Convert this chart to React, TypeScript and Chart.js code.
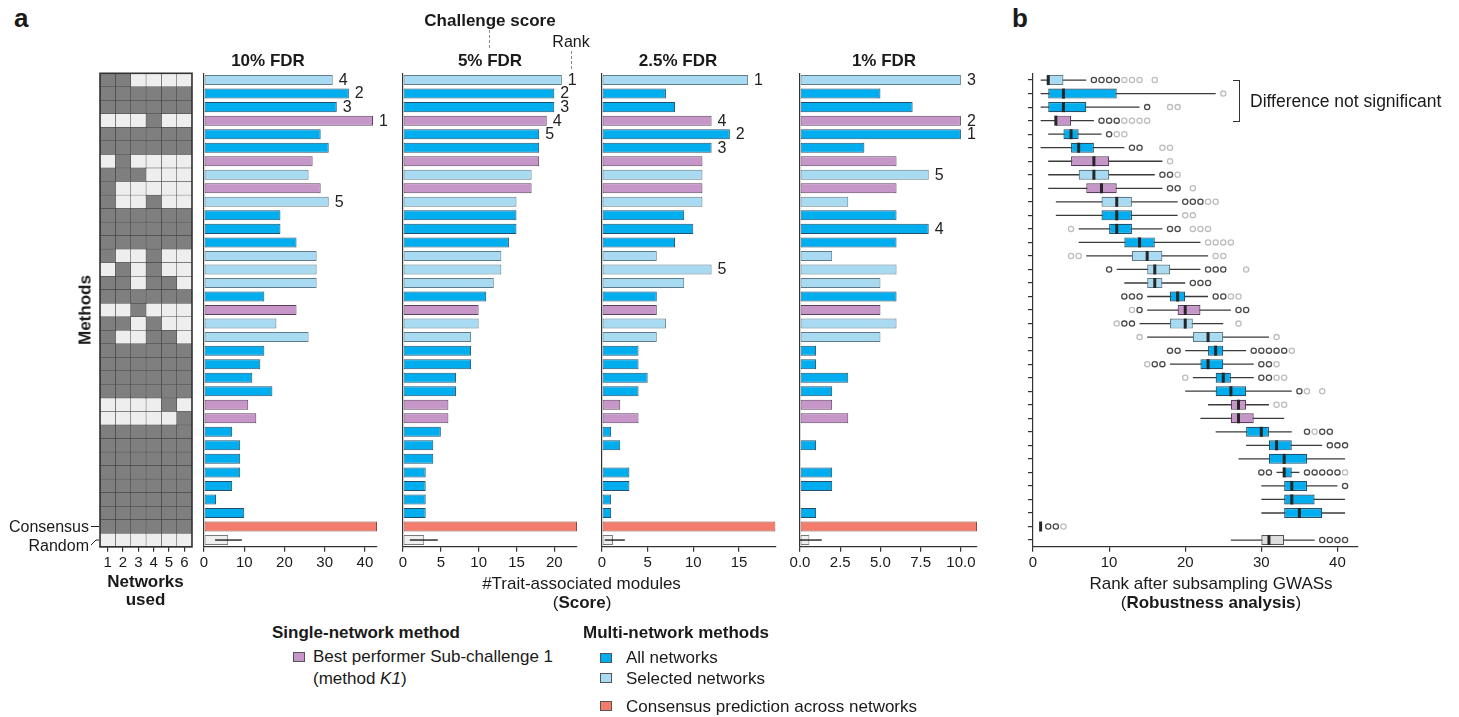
import React, { useEffect, useRef } from 'react';
import { Chart, registerables } from 'chart.js';

Chart.register(...registerables);

const FONT = "'Liberation Sans', Arial, Helvetica, sans-serif";
Chart.defaults.font.family = FONT;

// ---------------- data ----------------
const rowLabels: string[] = [
  ...Array.from({ length: 33 }, (_, i) => `Method ${i + 1}`),
  'Consensus',
  'Random',
];

// A = all networks, S = selected networks, P = single network (K1), C = consensus, R = random
const rowTypes = [
  'S', 'A', 'A', 'P', 'A', 'A', 'P', 'S', 'P', 'S',
  'A', 'A', 'A', 'S', 'S', 'S', 'A', 'P', 'S', 'S',
  'A', 'A', 'A', 'A', 'P', 'P', 'A', 'A', 'A', 'A',
  'A', 'A', 'A', 'C', 'R',
];

const networkLabels = ['1', '2', '3', '4', '5', '6'];
const networksUsed = [
  '110000', '111111', '111111', '000100', '111111', '111111', '010000', '111000', '100000', '100100',
  '111111', '111111', '111111', '100100', '010100', '110110', '111111', '001000', '110100', '100110',
  '111111', '111111', '111111', '111111', '000010', '000001', '111111', '111111', '111111', '111111',
  '111111', '111111', '111111', '111111', '000000',
];

const fdr10Scores = [32, 36, 33, 42, 29, 31, 27, 26, 29, 31, 19, 19, 23, 28, 28, 28, 15, 23, 18, 26, 15, 14, 12, 17, 11, 13, 7, 9, 9, 9, 7, 3, 10, 43, 6];
const fdr5Scores = [21, 20, 20, 19, 18, 18, 18, 17, 17, 15, 15, 15, 14, 13, 13, 12, 11, 10, 10, 9, 9, 9, 7, 7, 6, 6, 5, 4, 4, 3, 3, 3, 3, 23, 2.8];
const fdr25Scores = [16, 7, 8, 12, 14, 12, 11, 11, 11, 11, 9, 10, 8, 6, 12, 9, 6, 6, 7, 6, 4, 4, 5, 4, 2, 4, 1, 2, 0, 3, 3, 1, 1, 19, 1.2];
const fdr1Scores = [10, 5, 7, 10, 10, 4, 6, 8, 6, 3, 6, 8, 6, 2, 6, 5, 6, 5, 6, 5, 1, 1, 3, 2, 2, 3, 0, 1, 0, 2, 2, 0, 1, 11, 0.58];

const fdr10Ranks = [4, 2, 3, 1, null, null, null, null, null, 5];
const fdr5Ranks = [1, 2, 3, 4, 5];
const fdr25Ranks = [1, null, null, 4, 2, 3, null, null, null, null, null, null, null, null, 5];
const fdr1Ranks = [3, null, null, 2, 1, null, null, 5, null, null, null, 4];

const fdr10RandomRange = [2.75, 9.4];
const fdr5RandomRange = [0.9, 4.6];
const fdr25RandomRange = [0.3, 2.5];
const fdr1RandomRange = [0, 1.35];

const fdr10Ticks = { max: 43, step: 10, decimals: 0 };
const fdr5Ticks = { max: 23, step: 5, decimals: 0 };
const fdr25Ticks = { max: 19, step: 5, decimals: 0 };
const fdr1Ticks = { max: 11, step: 2.5, decimals: 1 };

// robustness box plots (rank after subsampling GWASs)
const boxLow = [1, 1, 1, 1, 2, 1, 2, 2, 2, 3, 3, 6, 6, 7, 11, 12, 15, 15, 14, 15, 20, 18, 21, 20, 23, 22, 24, 28, 27, 32, 30, 30, 30, 1, 26];
const boxQ1 = [2, 2, 2, 3, 4, 5, 5, 6, 7, 9, 9, 10, 12, 13, 15, 15, 18, 19, 18, 21, 23, 22, 24, 24, 26, 26, 28, 31, 31, 33, 33, 33, 33, 1, 30];
const boxMedian = [2, 4, 4, 3, 5, 6, 8, 8, 9, 11, 11, 11, 14, 15, 16, 16, 19, 20, 20, 23, 24, 23, 25, 26, 27, 27, 30, 32, 33, 33, 34, 34, 35, 1, 31];
const boxQ3 = [4, 11, 7, 5, 6, 8, 10, 10, 11, 13, 13, 13, 16, 17, 18, 17, 20, 22, 21, 25, 25, 25, 26, 28, 28, 29, 31, 34, 36, 34, 36, 37, 38, 1, 33];
const boxHigh = [7, 24, 14, 8, 9, 12, 17, 16, 17, 19, 19, 17, 22, 23, 22, 20, 23, 26, 25, 31, 28, 29, 29, 34, 31, 33, 34, 38, 41, 35, 40, 41, 41, 1, 37];
const outliersDark = [
  [8, 9, 10, 11], [], [15], [9, 10, 11], [10], [13, 14], [], [17, 18], [18, 19], [20, 21, 22],
  [], [18, 19], [], [], [10, 23, 24, 25], [21, 22, 23], [12, 13, 14, 24, 25], [14, 27, 28], [12, 13], [],
  [18, 19, 29, 30, 31, 32, 33], [16, 17, 30, 31], [30, 31], [35], [], [], [36, 38, 39], [39, 40, 41], [], [30, 31, 36, 37, 38, 39, 40],
  [41], [], [], [2, 3], [38, 39, 40, 41],
];
const outliersLight = [
  [12, 13, 14, 16], [25], [18, 19], [12, 13, 14, 15], [11, 12], [17, 18], [18], [19], [21], [23, 24],
  [20, 21], [5, 21, 22, 23], [23, 24, 25, 26], [5, 6, 24, 25], [28], [], [26, 27], [13], [11, 27], [14, 32],
  [34], [15, 32], [20, 32, 33], [36, 38], [32, 33], [], [37], [], [], [41],
  [], [], [], [4], [],
];
const rankAxis = { max: 42.7, step: 10 };

// ---------------- styles ----------------
const typeFill: Record<string, string> = { A: '#00adee', S: '#a8dbf1', P: '#c796c9', C: '#f47c6c', R: '#efefef' };
const typeBorder: Record<string, string> = { A: '#25506a', S: '#5f7b87', P: '#5a405c', C: '#8a4a40', R: '#7a7a7a' };
const boxFill: Record<string, string> = { ...typeFill, R: '#dedede' };
const CELL_DARK = '#7f7f7f';
const CELL_LIGHT = '#eeeeee';
const AXIS = '#333333';
const INK = '#1a1a1a';

const AREA_TOP = 73.3;
const AREA_BOTTOM = 546.8;
const CANVAS_TOP = 40;
const CANVAS_BOTTOM = 575;

type Box = { x: number; w: number; left: number; right: number };

function frame(b: Box) {
  return {
    padTop: AREA_TOP - CANVAS_TOP,
    padRight: b.x + b.w - b.right,
    yWidth: b.left - b.x,
    xHeight: CANVAS_BOTTOM - AREA_BOTTOM,
  };
}

const tickFont = { family: FONT, size: 15 };

function xAxis(max: number, step: number, decimals: number, xHeight: number) {
  return {
    type: 'linear',
    min: 0,
    max,
    ticks: {
      stepSize: step,
      includeBounds: false,
      font: tickFont,
      color: INK,
      padding: 2,
      callback: (v: any) => Number(v).toFixed(decimals),
    },
    grid: { drawOnChartArea: false, drawTicks: true, tickLength: 5, color: AXIS, lineWidth: 1.2 },
    border: { display: true, color: AXIS, width: 1.2 },
    afterFit: (s: any) => {
      s.height = xHeight;
    },
  };
}

// ---------------- chart configs ----------------
function heatmapConfig(b: Box) {
  const f = frame(b);
  return {
    type: 'bar',
    data: {
      labels: rowLabels,
      datasets: networkLabels.map((_, j) => ({
        label: `Network ${networkLabels[j]}`,
        data: networksUsed.map(() => 1),
        backgroundColor: networksUsed.map((r) => (r[j] === '1' ? CELL_DARK : CELL_LIGHT)),
        borderColor: '#3d3d3d',
        borderWidth: 0.5,
        borderSkipped: false,
        barPercentage: 1,
        categoryPercentage: 1,
        stack: 'cells',
      })),
    },
    options: {
      indexAxis: 'y',
      animation: false,
      responsive: false,
      events: [],
      layout: { autoPadding: false, padding: { top: f.padTop, right: f.padRight, left: b.left - b.x, bottom: 0 } },
      plugins: { legend: { display: false }, tooltip: { enabled: false } },
      scales: {
        x: {
          type: 'linear',
          stacked: true,
          min: 0,
          max: networkLabels.length,
          afterBuildTicks: (s: any) => {
            s.ticks = networkLabels.map((_, i) => ({ value: i + 0.5 }));
          },
          ticks: {
            autoSkip: false,
            font: tickFont,
            color: INK,
            padding: 2,
            callback: (_v: any, i: number) => networkLabels[i],
          },
          grid: { drawOnChartArea: false, drawTicks: true, tickLength: 5, color: AXIS, lineWidth: 1.2 },
          border: { display: true, color: AXIS, width: 1.2 },
          afterFit: (s: any) => {
            s.height = f.xHeight;
          },
        },
        y: { type: 'category', stacked: true, display: false },
      },
    },
    plugins: [
      {
        id: 'heatFrame',
        afterDraw(chart: any) {
          const { ctx, chartArea: a, scales } = chart;
          const y = scales.y;
          ctx.save();
          ctx.strokeStyle = AXIS;
          ctx.lineWidth = 1.6;
          ctx.strokeRect(a.left, a.top, a.right - a.left, a.bottom - a.top);
          ctx.lineWidth = 1;
          ctx.strokeStyle = '#222';
          const cy = y.getPixelForValue(rowLabels.length - 2);
          const ry = y.getPixelForValue(rowLabels.length - 1);
          ctx.beginPath();
          ctx.moveTo(a.left - 9, cy);
          ctx.lineTo(a.left - 1, cy);
          ctx.stroke();
          ctx.beginPath();
          ctx.moveTo(a.left - 9, ry + 5);
          ctx.lineTo(a.left - 4, ry);
          ctx.lineTo(a.left - 1, ry);
          ctx.stroke();
          ctx.restore();
        },
      },
    ],
  };
}

type PanelSpec = {
  title: string;
  scores: number[];
  ranks: (number | null)[];
  range: number[];
  ticks: { max: number; step: number; decimals: number };
  box: Box;
  titleX: number;
};

function barPanelConfig(p: PanelSpec) {
  const f = frame(p.box);
  return {
    type: 'bar',
    data: {
      labels: rowLabels,
      datasets: [
        {
          label: p.title,
          data: p.scores,
          backgroundColor: rowTypes.map((t) => typeFill[t]),
          borderColor: rowTypes.map((t) => typeBorder[t]),
          borderWidth: 1,
          borderSkipped: false,
          barPercentage: 0.74,
          categoryPercentage: 1,
        },
      ],
    },
    options: {
      indexAxis: 'y',
      animation: false,
      responsive: false,
      events: [],
      layout: { autoPadding: false, padding: { top: f.padTop, right: f.padRight, left: 0, bottom: 0 } },
      plugins: { legend: { display: false }, tooltip: { enabled: false } },
      scales: {
        x: xAxis(p.ticks.max, p.ticks.step, p.ticks.decimals, f.xHeight),
        y: {
          type: 'category',
          ticks: { display: false },
          grid: { display: false },
          border: { display: true, color: AXIS, width: 1.2 },
          afterFit: (s: any) => {
            s.width = f.yWidth;
          },
        },
      },
    },
    plugins: [
      {
        id: 'rankAndError',
        afterDatasetsDraw(chart: any) {
          const { ctx, scales } = chart;
          const { x, y } = scales;
          ctx.save();
          ctx.font = `16px ${FONT}`;
          ctx.fillStyle = '#222';
          ctx.textBaseline = 'middle';
          ctx.textAlign = 'left';
          p.ranks.forEach((r, i) => {
            if (r == null) return;
            ctx.fillText(String(r), x.getPixelForValue(p.scores[i]) + 6, y.getPixelForValue(i) + 0.5);
          });
          const ri = rowLabels.length - 1;
          const yy = y.getPixelForValue(ri);
          ctx.strokeStyle = '#111';
          ctx.lineWidth = 1.3;
          ctx.beginPath();
          ctx.moveTo(x.getPixelForValue(p.range[0]), yy);
          ctx.lineTo(x.getPixelForValue(p.range[1]), yy);
          ctx.stroke();
          ctx.restore();
        },
      },
    ],
  };
}

function boxPanelConfig(b: Box) {
  const f = frame(b);
  return {
    type: 'bar',
    data: {
      labels: rowLabels,
      datasets: [
        {
          label: 'Rank after subsampling GWASs',
          data: boxQ1.map((q, i) => [q, boxQ3[i]]),
          backgroundColor: rowTypes.map((t) => boxFill[t]),
          borderColor: rowTypes.map((t) => (t === 'R' ? '#555' : typeBorder[t])),
          borderWidth: 1.2,
          borderSkipped: false,
          barPercentage: 0.74,
          categoryPercentage: 1,
        },
      ],
    },
    options: {
      indexAxis: 'y',
      animation: false,
      responsive: false,
      events: [],
      layout: { autoPadding: false, padding: { top: f.padTop, right: f.padRight, left: 0, bottom: 0 } },
      plugins: { legend: { display: false }, tooltip: { enabled: false } },
      scales: {
        x: xAxis(rankAxis.max, rankAxis.step, 0, f.xHeight),
        y: {
          type: 'category',
          ticks: { display: false },
          grid: { display: true, offset: false, drawOnChartArea: false, drawTicks: true, tickLength: 5, color: AXIS, lineWidth: 1.2 },
          border: { display: true, color: AXIS, width: 1.2 },
          afterFit: (s: any) => {
            s.width = f.yWidth;
          },
        },
      },
    },
    plugins: [
      {
        id: 'boxExtras',
        beforeDatasetsDraw(chart: any) {
          const { ctx, scales } = chart;
          const { x, y } = scales;
          ctx.save();
          ctx.strokeStyle = '#3a3a3a';
          ctx.lineWidth = 1.3;
          boxLow.forEach((lo, i) => {
            if (lo === boxHigh[i]) return;
            const yy = y.getPixelForValue(i);
            ctx.beginPath();
            ctx.moveTo(x.getPixelForValue(lo), yy);
            ctx.lineTo(x.getPixelForValue(boxHigh[i]), yy);
            ctx.stroke();
          });
          ctx.restore();
        },
        afterDatasetsDraw(chart: any) {
          const { ctx, scales } = chart;
          const { x, y } = scales;
          ctx.save();
          ctx.strokeStyle = '#262626';
          ctx.lineWidth = 3;
          boxMedian.forEach((m, i) => {
            const yy = y.getPixelForValue(i);
            const xx = x.getPixelForValue(m);
            ctx.beginPath();
            ctx.moveTo(xx, yy - 5);
            ctx.lineTo(xx, yy + 5);
            ctx.stroke();
          });
          ctx.lineWidth = 1.3;
          const drawDots = (lists: number[][], color: string) => {
            ctx.strokeStyle = color;
            lists.forEach((vals, i) => {
              const yy = y.getPixelForValue(i);
              vals.forEach((v) => {
                ctx.beginPath();
                ctx.arc(x.getPixelForValue(v), yy, 2.6, 0, Math.PI * 2);
                ctx.stroke();
              });
            });
          };
          drawDots(outliersLight, '#bdbdbd');
          drawDots(outliersDark, '#4a4a4a');
          ctx.restore();
        },
      },
    ],
  };
}

// ---------------- layout ----------------
const heatBox: Box = { x: 0, w: 200, left: 100, right: 192 };
const panels: PanelSpec[] = [
  { title: '10% FDR', scores: fdr10Scores, ranks: fdr10Ranks, range: fdr10RandomRange, ticks: fdr10Ticks, box: { x: 180, w: 225, left: 204, right: 377 }, titleX: 268 },
  { title: '5% FDR', scores: fdr5Scores, ranks: fdr5Ranks, range: fdr5RandomRange, ticks: fdr5Ticks, box: { x: 379, w: 224, left: 403, right: 577 }, titleX: 490 },
  { title: '2.5% FDR', scores: fdr25Scores, ranks: fdr25Ranks, range: fdr25RandomRange, ticks: fdr25Ticks, box: { x: 578, w: 225, left: 602, right: 775.5 }, titleX: 678 },
  { title: '1% FDR', scores: fdr1Scores, ranks: fdr1Ranks, range: fdr1RandomRange, ticks: fdr1Ticks, box: { x: 776, w: 230, left: 800, right: 977 }, titleX: 884 },
];
const rankBox: Box = { x: 1005, w: 380, left: 1033, right: 1358 };

function ChartCanvas({ box, make }: { box: Box; make: () => any }) {
  const ref = useRef<HTMLCanvasElement | null>(null);
  useEffect(() => {
    const chart = new Chart(ref.current as HTMLCanvasElement, make());
    return () => chart.destroy();
  }, []);
  const h = CANVAS_BOTTOM - CANVAS_TOP;
  return (
    <canvas
      ref={ref}
      width={box.w}
      height={h}
      style={{ position: 'absolute', left: box.x, top: CANVAS_TOP, width: box.w, height: h }}
    />
  );
}

type LabelProps = {
  x: number;
  y: number;
  align?: 'left' | 'center' | 'right';
  size?: number;
  bold?: boolean;
  rotate?: boolean;
  children: React.ReactNode;
};

function Label({ x, y, align = 'left', size = 17, bold = false, rotate = false, children }: LabelProps) {
  const tx = align === 'left' ? '0' : align === 'center' ? '-50%' : '-100%';
  return (
    <div
      style={{
        position: 'absolute',
        left: x,
        top: y,
        transform: `translate(${tx}, -50%)${rotate ? ' rotate(-90deg)' : ''}`,
        whiteSpace: 'nowrap',
        fontFamily: FONT,
        fontSize: size,
        fontWeight: bold ? 700 : 400,
        lineHeight: 1,
        color: INK,
      }}
    >
      {children}
    </div>
  );
}

function Swatch({ x, y, color }: { x: number; y: number; color: string }) {
  return (
    <div
      style={{
        position: 'absolute',
        left: x,
        top: y - 5,
        width: 12,
        height: 10,
        boxSizing: 'border-box',
        background: color,
        border: '1px solid #555',
      }}
    />
  );
}

function Dashed({ x, y1, y2 }: { x: number; y1: number; y2: number }) {
  return (
    <div
      style={{
        position: 'absolute',
        left: x,
        top: y1,
        width: 0,
        height: y2 - y1,
        borderLeft: '1px dashed #8a8a8a',
      }}
    />
  );
}

export default function App() {
  return (
    <div
      style={{
        position: 'absolute',
        left: 0,
        top: 0,
        width: 1459,
        height: 717,
        background: '#ffffff',
        overflow: 'hidden',
        fontFamily: FONT,
      }}
    >
      <ChartCanvas box={heatBox} make={() => heatmapConfig(heatBox)} />
      {panels.map((p) => (
        <ChartCanvas key={p.title} box={p.box} make={() => barPanelConfig(p)} />
      ))}
      <ChartCanvas box={rankBox} make={() => boxPanelConfig(rankBox)} />

      {/* panel letters */}
      <div style={{ position: 'absolute', left: 14, top: 5, fontFamily: FONT, fontWeight: 700, fontSize: 26, lineHeight: 1, color: INK }}>a</div>
      <div style={{ position: 'absolute', left: 1012, top: 5, fontFamily: FONT, fontWeight: 700, fontSize: 26, lineHeight: 1, color: INK }}>b</div>

      {/* header annotations */}
      <Label x={490} y={20} align="center" bold>
        Challenge score
      </Label>
      <Dashed x={489} y1={30} y2={48} />
      <Label x={571} y={42} align="center" size={16}>
        Rank
      </Label>
      <Dashed x={571} y1={51} y2={69} />
      {panels.map((p) => (
        <Label key={p.title + 't'} x={p.titleX} y={59.5} align="center" bold>
          {p.title}
        </Label>
      ))}

      {/* heatmap annotations */}
      <Label x={84.5} y={310} align="center" bold rotate>
        Methods
      </Label>
      <Label x={89} y={526.5} align="right" size={16}>
        Consensus
      </Label>
      <Label x={89} y={545.5} align="right" size={16}>
        Random
      </Label>
      <Label x={145.5} y={581} align="center" bold>
        Networks
      </Label>
      <Label x={145.5} y={599} align="center" bold>
        used
      </Label>

      {/* score axis title */}
      <Label x={581.5} y={583} align="center">
        #Trait-associated modules
      </Label>
      <Label x={582} y={602} align="center">
        (<b>Score</b>)
      </Label>

      {/* robustness panel annotations */}
      <Label x={1211} y={583} align="center">
        Rank after subsampling GWASs
      </Label>
      <Label x={1211} y={602} align="center">
        (<b>Robustness analysis</b>)
      </Label>
      <div
        style={{
          position: 'absolute',
          left: 1233,
          top: 80,
          width: 7,
          height: 42,
          boxSizing: 'border-box',
          borderTop: '1.6px solid #333',
          borderRight: '1.6px solid #333',
          borderBottom: '1.6px solid #333',
        }}
      />
      <Label x={1250} y={102} size={17.5}>
        Difference not significant
      </Label>

      {/* legend */}
      <Label x={272} y={632} bold>
        Single-network method
      </Label>
      <Swatch x={293} y={656.5} color={typeFill.P} />
      <Label x={313} y={656}>
        Best performer Sub-challenge 1
      </Label>
      <Label x={313} y={678}>
        (method <i>K1</i>)
      </Label>

      <Label x={583} y={632} bold>
        Multi-network methods
      </Label>
      <Swatch x={600} y={658} color={typeFill.A} />
      <Label x={626} y={657}>
        All networks
      </Label>
      <Swatch x={600} y={678} color={typeFill.S} />
      <Label x={626} y={678}>
        Selected networks
      </Label>
      <Swatch x={600} y={706} color={typeFill.C} />
      <Label x={626} y={706}>
        Consensus prediction across networks
      </Label>
    </div>
  );
}
